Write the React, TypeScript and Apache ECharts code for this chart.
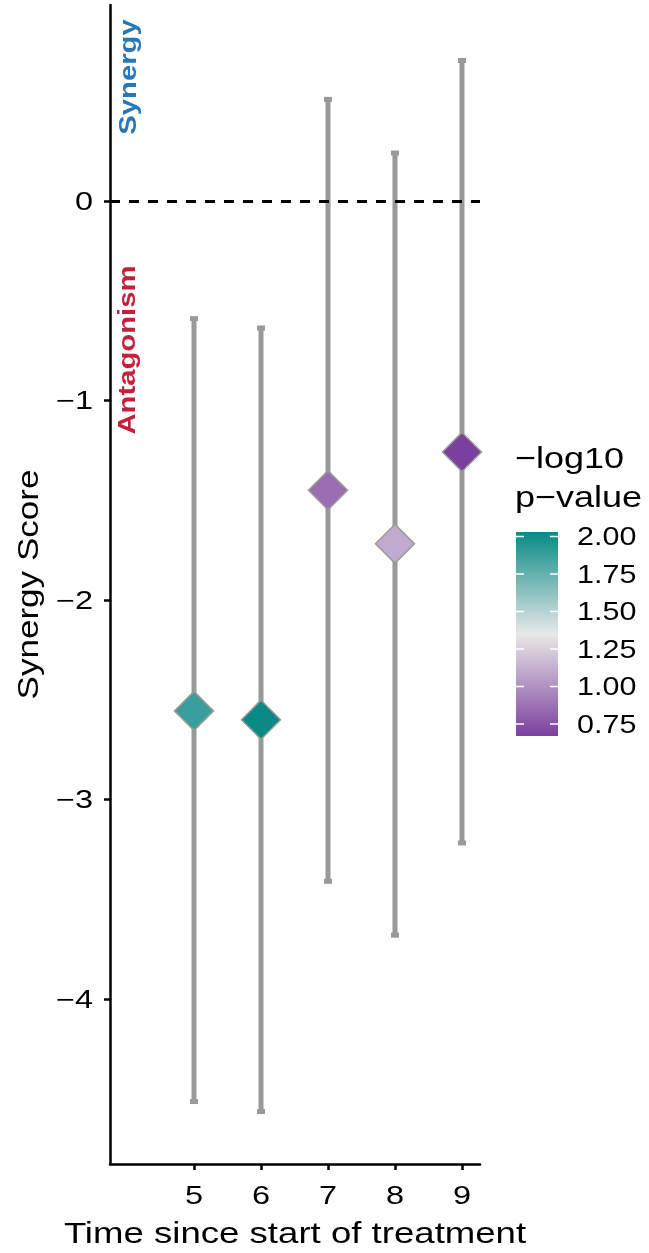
import React, { useEffect, useRef } from "react";
import * as echarts from "echarts";

// ---- data ----
const timePoints = [5, 6, 7, 8, 9];
const synergyScore = [-2.556, -2.6, -1.45, -1.718, -1.258];
const lowerCI = [-4.514, -4.564, -3.41, -3.68, -3.218];
const upperCI = [-0.59, -0.637, 0.509, 0.24, 0.704];
const negLog10P = [1.88, 2.03, 0.86, 1.1, 0.67];
const xTicks = [5, 6, 7, 8, 9];
const yTicks = [-4, -3, -2, -1, 0];
const legendTicks = [2.0, 1.75, 1.5, 1.25, 1.0, 0.75];
const xTitle = "Time since start of treatment";
const yTitle = "Synergy Score";
const legendTitle = ["\u2212log10", "p\u2212value"];

const FONT = "'Liberation Sans', Arial, Helvetica, sans-serif";
const TEAL = "#088a86";
const MID = "#e8e8e8";
const PURPLE = "#7b3f9e";
const WIDE = 1.22; // the reference's glyphs are wider than Liberation Sans

export default function App() {
  const ref = useRef<HTMLDivElement>(null);
  useEffect(() => {
    if (!ref.current) return;
    const chart = echarts.init(ref.current, null, { renderer: "svg" });
    const cMin = Math.min(...negLog10P);
    const cMax = Math.max(...negLog10P);
    const minus = (v: number) => String(v).replace("-", "\u2212");

    const barData = timePoints.map((t, i) => [t, lowerCI[i], upperCI[i]]);
    const pointData = timePoints.map((t, i) => [t, synergyScore[i], negLog10P[i]]);

    chart.setOption({
      animation: false,
      textStyle: { fontFamily: FONT },
      grid: { left: 110, right: 169, top: 5, bottom: 89, containLabel: false },
      xAxis: {
        type: "value",
        min: 3.746,
        max: 9.269,
        axisLine: { show: true, onZero: false, lineStyle: { color: "#000", width: 2.5 } },
        axisTick: { show: true, length: 6, lineStyle: { color: "#000", width: 2.5 }, customValues: xTicks },
        axisLabel: { show: false },
        splitLine: { show: false },
      },
      yAxis: {
        type: "value",
        min: -4.827,
        max: 0.982,
        axisLine: { show: true, onZero: false, lineStyle: { color: "#000", width: 2.5 } },
        axisTick: { show: true, length: 6, lineStyle: { color: "#000", width: 2.5 }, customValues: yTicks },
        axisLabel: { show: false },
        splitLine: { show: false },
      },
      visualMap: {
        type: "continuous",
        show: false,
        seriesIndex: 1,
        dimension: 2,
        min: cMin,
        max: cMax,
        inRange: { color: [PURPLE, MID, TEAL] },
      },
      series: [
        {
          type: "custom",
          data: barData,
          z: 2,
          renderItem: (params: any, api: any) => {
            const x = api.value(0);
            const lo = api.coord([x, api.value(1)]);
            const hi = api.coord([x, api.value(2)]);
            const st = { fill: "#999999" };
            return {
              type: "group",
              children: [
                {
                  type: "line",
                  shape: { x1: lo[0], y1: lo[1], x2: hi[0], y2: hi[1] },
                  style: { stroke: "#999999", lineWidth: 5 },
                },
                { type: "rect", shape: { x: lo[0] - 4, y: lo[1] - 2.5, width: 8, height: 5 }, style: st },
                { type: "rect", shape: { x: hi[0] - 4, y: hi[1] - 2.5, width: 8, height: 5 }, style: st },
              ],
            };
          },
          markLine: {
            silent: true,
            symbol: ["none", "none"],
            label: { show: false },
            lineStyle: { color: "#000", width: 2.8, type: [10, 9] },
            data: [{ yAxis: 0 }],
          },
        },
        {
          type: "scatter",
          data: pointData,
          z: 5,
          symbol: "diamond",
          symbolSize: 39,
          itemStyle: { borderColor: "#999999", borderWidth: 1.5, opacity: 1 },
        },
      ],
    });

    // ---- texts and legend placed through the chart's own scales ----
    const grid = { left: 110, right: 649 - 169, top: 5, bottom: 1253 - 89 };
    const graphics: any[] = [];
    xTicks.forEach((t) => {
      const px = chart.convertToPixel({ xAxisIndex: 0 }, t) as number;
      graphics.push({
        type: "text",
        x: px,
        y: grid.bottom + 31,
        scaleX: 1.3,
        style: { text: String(t), fill: "#000", font: `25px ${FONT}`, textAlign: "center", textVerticalAlign: "middle" },
      });
    });
    yTicks.forEach((t) => {
      const py = chart.convertToPixel({ yAxisIndex: 0 }, t) as number;
      graphics.push({
        type: "text",
        x: grid.left - 17,
        y: py,
        scaleX: 1.3,
        style: { text: minus(t), fill: "#000", font: `25px ${FONT}`, textAlign: "right", textVerticalAlign: "middle" },
      });
    });
    graphics.push(
      {
        type: "text",
        x: (grid.left + grid.right) / 2,
        y: 1233,
        scaleX: WIDE,
        style: { text: xTitle, fill: "#000", font: `30px ${FONT}`, textAlign: "center", textVerticalAlign: "middle" },
      },
      {
        type: "text",
        x: 27,
        y: (grid.top + grid.bottom) / 2,
        rotation: Math.PI / 2,
        scaleX: 1.17,
        style: { text: yTitle, fill: "#000", font: `30px ${FONT}`, textAlign: "center", textVerticalAlign: "middle" },
      },
      {
        type: "text",
        x: 128,
        y: 77,
        rotation: Math.PI / 2,
        scaleX: WIDE,
        style: {
          text: "Synergy",
          fill: "#2878b8",
          font: `bold 24px ${FONT}`,
          textAlign: "center",
          textVerticalAlign: "middle",
        },
      },
      {
        type: "text",
        x: 127,
        y: 350,
        rotation: Math.PI / 2,
        scaleX: WIDE,
        style: {
          text: "Antagonism",
          fill: "#c4203c",
          font: `bold 24px ${FONT}`,
          textAlign: "center",
          textVerticalAlign: "middle",
        },
      }
    );

    const barX = 516, barY = 532, barW = 42, barH = 204;
    const yOf = (v: number) => barY + ((cMax - v) / (cMax - cMin)) * barH;
    legendTitle.forEach((s, i) => {
      graphics.push({
        type: "text",
        x: 515,
        y: 458 + i * 39,
        scaleX: 1.2,
        style: { text: s, fill: "#000", font: `30px ${FONT}`, textVerticalAlign: "middle" },
      });
    });
    graphics.push({
      type: "rect",
      shape: { x: barX, y: barY, width: barW, height: barH },
      style: {
        fill: new echarts.graphic.LinearGradient(0, 0, 0, 1, [
          { offset: 0, color: TEAL },
          { offset: 0.5, color: MID },
          { offset: 1, color: PURPLE },
        ]),
      },
    });
    legendTicks.forEach((t) => {
      const y = yOf(t);
      graphics.push(
        { type: "line", shape: { x1: barX, y1: y, x2: barX + 8, y2: y }, style: { stroke: "#fff", lineWidth: 1.5 } },
        { type: "line", shape: { x1: barX + barW - 8, y1: y, x2: barX + barW, y2: y }, style: { stroke: "#fff", lineWidth: 1.5 } },
        {
          type: "text",
          x: 577,
          y,
          scaleX: 1.22,
          style: { text: t.toFixed(2), fill: "#000", font: `25px ${FONT}`, textVerticalAlign: "middle" },
        }
      );
    });

    chart.setOption({ graphic: graphics });
    return () => chart.dispose();
  }, []);
  return <div ref={ref} style={{ position: "fixed", left: 0, top: 0, width: 649, height: 1253 }} />;
}
